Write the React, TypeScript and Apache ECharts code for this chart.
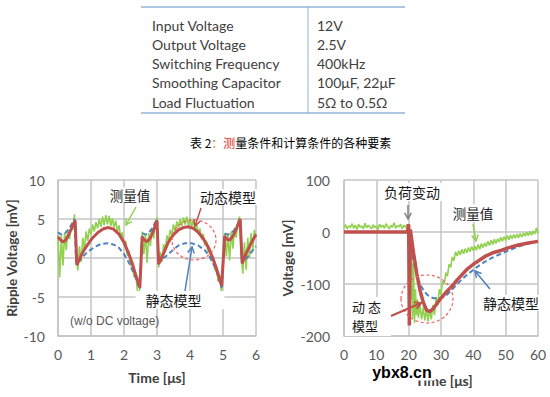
import React, { useEffect, useRef } from "react";
import * as echarts from "echarts";

// ---------- table ----------
const tableLabels = ["Input Voltage", "Output Voltage", "Switching Frequency", "Smoothing Capacitor", "Load Fluctuation"];
const tableValues = ["12V", "2.5V", "400kHz", "100μF, 22μF", "5Ω to 0.5Ω"];
const captionParts = ["表 2", "：", "测", "量条件和计算条件的各种要素"];

// ---------- left chart: ripple voltage ----------
const leftXTicks = { min: 0, max: 6, interval: 1 };
const leftYTicks = { min: -10, max: 10, interval: 5 };
const leftDynamic: [number, number][] = [
  [0, 2.7], [0.08, 2.3], [0.16, 2.05], [0.25, 2.4], [0.35, 3.2], [0.45, 4.2], [0.52, 4.8], [0.57, -0.9],
  [0.7, 0.3], [0.8, 1.1], [0.92, 1.85], [1.05, 2.6], [1.22, 3.3], [1.38, 3.75], [1.53, 3.9], [1.68, 3.7],
  [1.84, 3.1], [2.0, 2.0], [2.14, 0.6], [2.25, -0.7], [2.35, -2.1], [2.48, -3.8], [2.55, 2.7], [2.62, 2.3],
  [2.7, 2.1], [2.8, 2.6], [2.9, 3.6], [3.0, 4.8], [3.05, -0.8], [3.2, 0.6], [3.34, 2.0], [3.5, 3.0],
  [3.65, 3.6], [3.8, 3.9], [3.95, 4.0], [4.1, 3.8], [4.25, 3.3], [4.4, 2.5], [4.55, 1.4], [4.7, -0.1],
  [4.85, -2.0], [4.96, -3.6], [5.05, 2.8], [5.12, 2.4], [5.2, 2.3], [5.3, 2.8], [5.42, 3.9], [5.52, 5.0],
  [5.58, -0.7], [5.7, 0.6], [5.85, 1.9], [6.0, 3.0],
];
const leftStatic: [number, number][] = [
  [0, 3.3], [0.1, 3.0], [0.2, 3.1], [0.3, 3.6], [0.4, 4.2], [0.5, 5.0], [0.55, -0.7], [0.7, -0.1],
  [0.85, 0.6], [1.0, 1.1], [1.15, 1.5], [1.3, 1.8], [1.5, 1.9], [1.7, 1.7], [1.85, 1.3], [2.0, 0.5],
  [2.15, -0.6], [2.3, -2.0], [2.48, -4.0], [2.55, 3.2], [2.65, 3.0], [2.75, 3.2], [2.85, 3.8], [3.0, 5.0],
  [3.05, -0.5], [3.2, 0.0], [3.35, 0.5], [3.5, 1.1], [3.65, 1.6], [3.85, 1.9], [4.05, 1.9], [4.25, 1.6],
  [4.45, 1.0], [4.6, 0.1], [4.76, -1.2], [4.96, -3.8], [5.05, 3.1], [5.15, 3.0], [5.25, 3.2], [5.35, 3.6],
  [5.45, 4.3], [5.52, 5.0], [5.58, -0.6], [5.7, -0.1], [5.85, 0.7], [6.0, 1.5],
];
const leftMeasured: [number, number][] = [
  [0.0, 3.0], [0.05, -2.5], [0.1, 2.8], [0.15, -1.0], [0.2, 3.2], [0.25, 1.0], [0.3, 3.6], [0.35, 2.4],
  [0.4, 4.3], [0.45, 3.6], [0.5, 5.6], [0.55, 0.5], [0.6, -1.6], [0.65, 1.5], [0.7, -0.5], [0.75, 2.6],
  [0.8, 1.0], [0.85, 3.4], [0.9, 2.2], [0.95, 3.8], [1.0, 3.0], [1.05, 4.3], [1.1, 3.4], [1.15, 4.6],
  [1.2, 3.8], [1.25, 5.0], [1.3, 4.0], [1.35, 5.3], [1.4, 4.2], [1.45, 5.5], [1.5, 4.3], [1.55, 5.4],
  [1.6, 4.1], [1.65, 5.1], [1.7, 3.9], [1.75, 4.8], [1.8, 3.4], [1.85, 4.2], [1.9, 2.6], [1.95, 3.3],
  [2.0, 1.6], [2.05, 2.2], [2.1, 0.3], [2.15, 0.9], [2.2, -1.0], [2.25, -0.4], [2.3, -2.4], [2.35, -1.8],
  [2.4, -4.0], [2.45, -5.4], [2.5, -2.0], [2.55, 3.4], [2.6, 0.5], [2.65, 3.0], [2.7, -0.6], [2.75, 3.2],
  [2.8, 1.5], [2.85, 3.8], [2.9, 2.5], [2.95, 4.5], [3.0, 5.2], [3.05, -1.2], [3.1, 0.8], [3.15, -0.5],
  [3.2, 1.8], [3.25, 0.9], [3.3, 2.9], [3.35, 2.2], [3.4, 3.6], [3.45, 2.9], [3.5, 4.3], [3.55, 3.4],
  [3.6, 4.7], [3.65, 3.9], [3.7, 5.0], [3.75, 4.1], [3.8, 5.2], [3.85, 4.3], [3.9, 5.3], [3.95, 4.2],
  [4.0, 5.1], [4.05, 4.0], [4.1, 4.9], [4.15, 3.6], [4.2, 4.4], [4.25, 3.1], [4.3, 3.8], [4.35, 2.4],
  [4.4, 3.1], [4.45, 1.6], [4.5, 2.2], [4.55, 0.7], [4.6, 1.3], [4.65, -0.4], [4.7, 0.2], [4.75, -1.6],
  [4.8, -1.0], [4.85, -3.0], [4.9, -2.2], [4.95, -4.4], [5.0, -1.0], [5.05, 3.2], [5.1, 0.2], [5.15, 3.0],
  [5.2, -0.3], [5.25, 3.4], [5.3, 1.2], [5.35, 3.9], [5.4, 2.6], [5.45, 4.5], [5.5, 5.3], [5.55, 0.6],
  [5.6, -2.0], [5.65, 2.0], [5.7, -1.5], [5.75, 2.6], [5.8, 0.0], [5.85, 3.2], [5.9, 1.0], [5.95, 3.6],
  [6.0, 2.8],
];

// ---------- right chart: load transient ----------
const rightXTicks = { min: 0, max: 60, interval: 10 };
const rightYTicks = { min: -200, max: 100, interval: 100 };
const rightDynamic: [number, number][] = [
  [0, 0], [19.6, 0], [20, 15], [20.2, -180], [20.5, 5], [21.5, -40], [22.5, -80], [23.5, -112],
  [24.5, -135], [25.5, -150], [26.5, -153], [27.5, -148], [28.5, -140], [30, -127], [32, -113],
  [33.3, -105], [35, -92], [38, -72], [40, -62], [43.6, -47], [46, -40], [48.8, -35], [51, -30],
  [53.9, -25], [57, -21], [60, -18],
];
const rightStatic: [number, number][] = [
  [0, 0], [20, 0], [20.5, -20], [21, -40], [22, -70], [23, -92], [24, -106], [25, -116], [26, -122],
  [27.5, -127], [29, -128], [30.5, -126], [32, -120], [33.5, -110], [35, -100], [36.5, -91], [38.5, -80],
  [41, -68], [43.6, -57], [46, -49], [48.8, -41], [51.5, -34], [54, -28], [57, -22], [60, -18],
];
const rightMeasured: [number, number][] = [
  [0, 8], [0.5, 14], [1, 6], [1.5, 12], [2, 9], [2.5, 16], [3, 7], [3.5, 13], [4, 5], [4.5, 15], [5, 9],
  [5.5, 12], [6, 6], [6.5, 17], [7, 8], [7.5, 13], [8, 10], [8.5, 6], [9, 14], [9.5, 8], [10, 12],
  [10.5, 4], [11, 15], [11.5, 9], [12, 13], [12.5, 7], [13, 16], [13.5, 10], [14, 6], [14.5, 13], [15, 9],
  [15.5, 18], [16, 7], [16.5, 12], [17, 10], [17.5, 15], [18, 6], [18.5, 13], [19, 9], [19.5, 14], [20, 12],
  [20.3, -40], [20.6, -130], [20.9, -20], [21.2, -165], [21.5, -60], [21.8, -175], [22.1, -110],
  [22.4, -160], [22.7, -130], [23, -165], [23.5, -140], [24, -168], [24.5, -145], [25, -170], [25.5, -148],
  [26, -172], [26.5, -150], [27, -168], [27.5, -140], [28, -160], [28.5, -125], [29, -140], [29.5, -110],
  [30, -120], [30.5, -95], [31, -100], [31.5, -78], [32, -85], [32.5, -62], [33, -68], [33.5, -48],
  [34, -55], [34.5, -38], [35, -46], [35.5, -36], [36, -44], [36.5, -33], [37, -42], [37.5, -32], [38, -40],
  [38.5, -30], [39, -38], [39.5, -28], [40, -36], [40.5, -27], [41, -35], [41.5, -24], [42, -33],
  [42.5, -22], [43, -30], [43.5, -21], [44, -28], [44.5, -18], [45, -26], [45.5, -16], [46, -24],
  [46.5, -14], [47, -22], [47.5, -13], [48, -19], [48.5, -10], [49, -18], [49.5, -9], [50, -16], [50.5, -7],
  [51, -15], [51.5, -6], [52, -13], [52.5, -5], [53, -12], [53.5, -4], [54, -11], [54.5, -3], [55, -10],
  [55.5, -2], [56, -8], [56.5, 0], [57, -7], [57.5, 1], [58, -6], [58.5, 2], [59, -4], [59.5, 8], [60, -3],
];

const GREEN = "#92D050";
const RED = "#C0504D";
const BLUE = "#4F81BD";
const GRID = "#C4C4C4";
const LABEL = "#595959";
const CJK = "'Noto Sans CJK SC', sans-serif";
const LAT = "Lato, 'Liberation Sans', sans-serif";

function arrow(x1: number, y1: number, x2: number, y2: number, color: string, w = 1.5) {
  const ang = Math.atan2(y2 - y1, x2 - x1);
  const L = 7, a = 0.5;
  const p1 = [x2 - L * Math.cos(ang - a), y2 - L * Math.sin(ang - a)];
  const p2 = [x2 - L * Math.cos(ang + a), y2 - L * Math.sin(ang + a)];
  return [
    { type: "line", z: 10, shape: { x1, y1, x2, y2 }, style: { stroke: color, lineWidth: w } },
    { type: "polyline", z: 10, shape: { points: [p1, [x2, y2], p2] }, style: { stroke: color, lineWidth: w, fill: "none" } },
  ];
}

function label(text: string, x: number, y: number, opts: any = {}) {
  return {
    type: "text", z: 10, x, y,
    style: {
      text, fill: "#1a1a1a", fontSize: 14, fontFamily: CJK, align: "center", verticalAlign: "middle",
      ...opts,
    },
  };
}

function axisCommon() {
  return {
    axisLine: { show: true, onZero: false, lineStyle: { color: GRID, width: 1.5 } },
    axisTick: { show: false },
    splitLine: { show: true, lineStyle: { color: GRID, width: 1.5 } },
    axisLabel: { color: LABEL, fontSize: 14, fontFamily: LAT },
  };
}

export default function App() {
  const ref = useRef<HTMLDivElement>(null);
  useEffect(() => {
    if (!ref.current) return;
    const chart = echarts.init(ref.current, undefined, { renderer: "svg" });

    const tableGraphics: any[] = [
      { type: "line", shape: { x1: 141, y1: 7, x2: 405, y2: 7 }, style: { stroke: "#95B3D7", lineWidth: 1.5 } },
      { type: "line", shape: { x1: 141, y1: 113, x2: 405, y2: 113 }, style: { stroke: "#95B3D7", lineWidth: 1.5 } },
      { type: "line", shape: { x1: 308, y1: 7, x2: 308, y2: 113 }, style: { stroke: "#95B3D7", lineWidth: 1 } },
    ];
    const rowY = [25, 44.3, 63.3, 82.7, 102];
    tableLabels.forEach((t, i) => {
      tableGraphics.push({ type: "text", x: 152, y: rowY[i], style: { text: t, fill: "#404040", fontSize: 14, fontFamily: LAT, align: "left", verticalAlign: "middle" } });
      tableGraphics.push({ type: "text", x: 317, y: rowY[i], style: { text: tableValues[i], fill: "#404040", fontSize: 14, fontFamily: LAT, align: "left", verticalAlign: "middle" } });
    });
    tableGraphics.push({
      type: "text", x: 190, y: 142,
      style: {
        text: `{a|${captionParts[0]}}{b|${captionParts[1]}}{c|${captionParts[2]}}{a|${captionParts[3]}}`,
        align: "left", verticalAlign: "middle",
        rich: {
          a: { fill: "#000", fontSize: 12, fontFamily: CJK },
          b: { fill: "#E36C09", fontSize: 12, fontFamily: CJK },
          c: { fill: "#D9302A", fontSize: 12, fontFamily: CJK },
        },
      },
    });

    const annot: any[] = [
      // axis names
      { type: "text", x: 12, y: 258, rotation: Math.PI / 2, style: { text: "Ripple Voltage [mV]", fill: "#404040", fontSize: 13.5, fontWeight: "bold", fontFamily: LAT, align: "center", verticalAlign: "middle" } },
      { type: "text", x: 157, y: 377, style: { text: "Time [μs]", fill: "#404040", fontSize: 14, fontWeight: "bold", fontFamily: LAT, align: "center", verticalAlign: "middle" } },
      { type: "text", x: 288, y: 258, rotation: Math.PI / 2, style: { text: "Voltage [mV]", fill: "#404040", fontSize: 13.5, fontWeight: "bold", fontFamily: LAT, align: "center", verticalAlign: "middle" } },
      { type: "text", x: 444, y: 380, style: { text: "Time [μs]", fill: "#404040", fontSize: 14, fontWeight: "bold", fontFamily: LAT, align: "center", verticalAlign: "middle" } },
      // left annotations
      label("测量值", 130, 195, { fontSize: 13.5, backgroundColor: "#fff", padding: [1, 2] }),
      label("动态模型", 228, 197, { backgroundColor: "#fff", padding: [1, 2] }),
      label("静态模型", 180, 300, { backgroundColor: "#fff", padding: [2, 23, 2, 10] }),
      label("(w/o DC voltage)", 70, 321, { fontSize: 12, fill: LABEL, fontFamily: "'Liberation Sans', sans-serif", align: "left" }),
      { type: "ellipse", z: 10, shape: { cx: 194, cy: 240, rx: 22, ry: 20 }, style: { fill: "none", stroke: "#F06060", lineWidth: 1.2, lineDash: [3, 2.5] } },
      ...arrow(136, 207, 126, 225, GREEN, 1.5),
      ...arrow(201, 208, 195, 226, RED, 1.5),
      ...arrow(185, 291, 192, 247, BLUE, 1.5),
      // right annotations
      label("负荷变动", 412, 192, { backgroundColor: "#fff", padding: [2, 2] }),
      label("测量值", 473, 213, { fontSize: 13.5, backgroundColor: "#fff", padding: [2, 2] }),
      label("静态模型", 511, 303, { backgroundColor: "#fff", padding: [1, 2] }),
      { type: "rect", z: 9, shape: { x: 345, y: 297, width: 46, height: 39 }, style: { fill: "#fff" } },
      label("动 态", 352, 306, { fontSize: 13, align: "left" }),
      label("模型", 352, 325, { fontSize: 13, align: "left" }),
      { type: "ellipse", z: 10, shape: { cx: 427, cy: 299, rx: 26, ry: 24 }, style: { fill: "none", stroke: "#F06060", lineWidth: 1.2, lineDash: [3, 2.5] } },
      ...arrow(408, 205, 408, 219, "#808080", 1.5),
      ...arrow(473, 224, 476, 241, GREEN, 1.5),
      ...arrow(490, 289, 475, 271, BLUE, 1.5),
      ...arrow(391, 316, 421, 303, RED, 2),
      // watermark text
      { type: "text", z: 12, x: 402, y: 372, style: { text: "ybx8.cn", fill: "#000", fontSize: 16, fontWeight: "bold", fontFamily: "'Liberation Sans', sans-serif", align: "center", verticalAlign: "middle", backgroundColor: "#fff", padding: [0, 4, 1, 4] } },
    ];

    chart.setOption({
      animation: false,
      grid: [
        { left: 58, top: 180, width: 198, height: 156 },
        { left: 344, top: 180, width: 194, height: 156 },
      ],
      xAxis: [
        { type: "value", gridIndex: 0, ...leftXTicks, ...axisCommon(), axisLabel: { ...axisCommon().axisLabel, margin: 11 } },
        { type: "value", gridIndex: 1, ...rightXTicks, ...axisCommon(), axisLabel: { ...axisCommon().axisLabel, margin: 11 } },
      ],
      yAxis: [
        { type: "value", gridIndex: 0, ...leftYTicks, ...axisCommon(), axisLabel: { ...axisCommon().axisLabel, margin: 13 } },
        { type: "value", gridIndex: 1, ...rightYTicks, ...axisCommon(), axisLabel: { ...axisCommon().axisLabel, margin: 14 } },
      ],
      series: [
        { type: "line", xAxisIndex: 0, yAxisIndex: 0, data: leftMeasured, symbol: "none", silent: true, z: 2, lineStyle: { color: GREEN, width: 1.6 } },
        { type: "line", xAxisIndex: 0, yAxisIndex: 0, data: leftStatic, symbol: "none", silent: true, z: 3, lineStyle: { color: BLUE, width: 2, type: [5, 3] } },
        { type: "line", xAxisIndex: 0, yAxisIndex: 0, data: leftDynamic, symbol: "none", silent: true, z: 4, lineStyle: { color: RED, width: 3 } },
        { type: "line", xAxisIndex: 1, yAxisIndex: 1, data: rightMeasured, symbol: "none", silent: true, z: 2, lineStyle: { color: GREEN, width: 1.6 } },
        { type: "line", xAxisIndex: 1, yAxisIndex: 1, data: rightStatic, symbol: "none", silent: true, z: 3, lineStyle: { color: BLUE, width: 2, type: [5, 3] } },
        { type: "line", xAxisIndex: 1, yAxisIndex: 1, data: rightDynamic, symbol: "none", silent: true, z: 4, lineStyle: { color: RED, width: 3.5 } },
      ],
      graphic: { elements: [...tableGraphics, ...annot] },
    });
    return () => chart.dispose();
  }, []);
  return <div ref={ref} style={{ position: "absolute", left: 0, top: 0, width: 550, height: 397, background: "#fff" }} />;
}
